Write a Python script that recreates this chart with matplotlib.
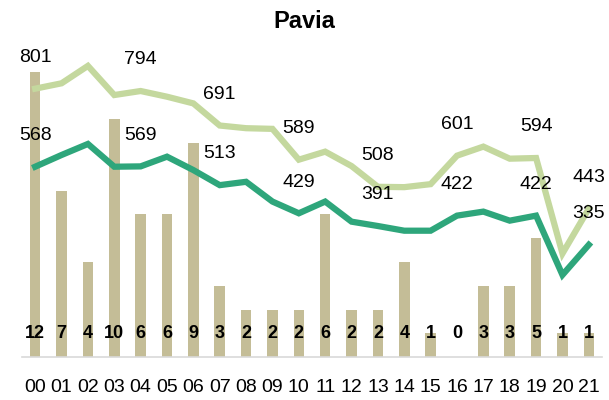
import matplotlib
matplotlib.use("Agg")
import matplotlib.pyplot as plt
import numpy as np

plt.rcParams['font.family'] = ['Liberation Sans', 'DejaVu Sans']

hours = ['00', '01', '02', '03', '04', '05', '06', '07', '08', '09', '10',
         '11', '12', '13', '14', '15', '16', '17', '18', '19', '20', '21']
counts = [12, 7, 4, 10, 6, 6, 9, 3, 2, 2, 2, 6, 2, 2, 4, 1, 0, 3, 3, 5, 1, 1]
upper = [801, 817, 869, 782, 794, 777, 757, 691, 683, 681, 589, 613, 570,
         508, 507, 516, 601, 628, 592, 594, 309, 443]
lower = [568, 603, 636, 568, 569, 598, 558, 513, 523, 464, 429, 464, 404,
         391, 377, 377, 422, 434, 407, 422, 245, 335]
labelled = [0, 4, 7, 10, 13, 16, 19, 21]

c_bar = '#C4BD97'
c_up = '#C4D89E'
c_low = '#2EA67B'

fig = plt.figure(figsize=(6.09, 4.0), dpi=100)
ax = fig.add_axes([22/609, 43/400, 580/609, 307/400])
x = np.arange(len(hours))

ax.bar(x, counts, width=0.4, color=c_bar, zorder=1)
ax.set_ylim(0, 307/23.75)
ax.set_xlim(-0.5, len(hours) - 0.5)
for i, c in enumerate(counts):
    ax.text(i, 1.0, str(c), ha='center', va='center', fontsize=13,
            fontweight='bold', color='black', zorder=5)

ax2 = ax.twinx()
ax2.set_ylim(0, 307/0.335)
ax2.plot(x, upper, color=c_up, lw=4.5, solid_joinstyle='miter')
ax2.plot(x, lower, color=c_low, lw=4.5, solid_joinstyle='miter')
for i in labelled:
    ax2.annotate(str(upper[i]), (i, upper[i]), xytext=(0, 22.5),
                 textcoords='offset points', ha='center', va='center',
                 fontsize=14, annotation_clip=False)
    ax2.annotate(str(lower[i]), (i, lower[i]), xytext=(0, 22.5),
                 textcoords='offset points', ha='center', va='center',
                 fontsize=14, annotation_clip=False)

for a in (ax, ax2):
    for s in a.spines.values():
        s.set_visible(False)
    a.set_yticks([])
ax.spines['bottom'].set_visible(True)
ax.spines['bottom'].set_color('#D9D9D9')
ax.spines['bottom'].set_linewidth(1.2)
ax.set_xticks(x)
ax.set_xticklabels(hours, fontsize=14)
ax.tick_params(axis='x', length=0, pad=16)

fig.text(0.5, 1 - 28/400, 'Pavia', ha='center', va='baseline', fontsize=17,
         fontweight='bold')

fig.savefig('out.png', dpi=100)
